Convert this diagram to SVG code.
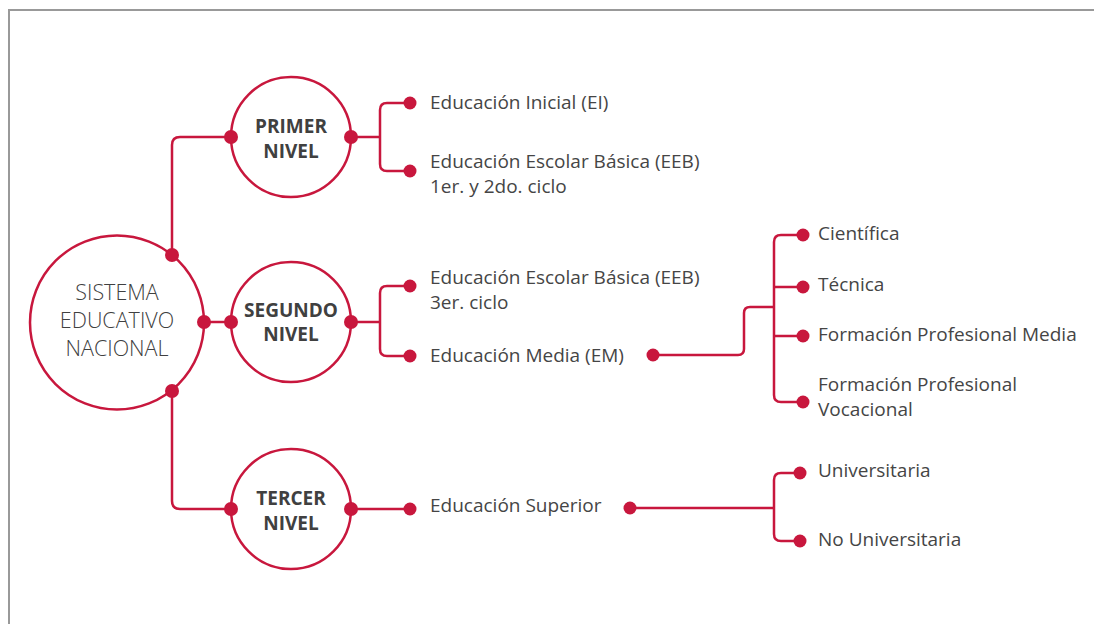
<svg xmlns="http://www.w3.org/2000/svg" width="1094" height="624" viewBox="0 0 1094 624">
<style>
.frame{fill:none;stroke:#999;stroke-width:2}
.ring{fill:#fff;stroke:#c8173d;stroke-width:2.5}
.ln{fill:none;stroke:#c8173d;stroke-width:2.5;stroke-linejoin:round}
.dot{fill:#c8173d}
.t{font-family:"Open Sans","Noto Sans",sans-serif;font-size:19px;fill:#454545}
.b{font-family:"Open Sans","Noto Sans",sans-serif;font-size:19px;font-weight:700;fill:#404040;text-anchor:middle}
.m{font-family:"Open Sans","Noto Sans",sans-serif;font-size:21.5px;font-weight:300;fill:#404040;text-anchor:middle}
</style>
<rect width="1094" height="624" fill="#fff"/>
<path class="frame" d="M9 630 V10 H1100"/>
<g id="connectors">
<path class="ln" d="M172 255 V145 Q172 137 180 137 H231"/>
<path class="ln" d="M204 322 H231"/>
<path class="ln" d="M172 391 V501 Q172 509 180 509 H231"/>
<path class="ln" d="M351 137 H380"/>
<path class="ln" d="M410 103 H387 Q380 103 380 110 V164 Q380 171 387 171 H410"/>
<path class="ln" d="M351 322 H380"/>
<path class="ln" d="M410 286 H387 Q380 286 380 293 V349 Q380 356 387 356 H410"/>
<path class="ln" d="M653 355 H738 Q744 355 744 349 V313 Q744 307 750 307 H774"/>
<path class="ln" d="M803 235 H781 Q774 235 774 242 V395 Q774 402 781 402 H803"/>
<path class="ln" d="M774 287 H803 M774 336 H803"/>
<path class="ln" d="M351 509 H410"/>
<path class="ln" d="M630 508 H774"/>
<path class="ln" d="M800 473 H781 Q774 473 774 480 V534 Q774 541 781 541 H800"/>
</g>
<g id="sistema">
<circle class="ring" cx="117" cy="322.5" r="87"/>
<text class="m" x="117" y="300">SISTEMA</text>
<text class="m" x="117" y="328">EDUCATIVO</text>
<text class="m" x="117" y="356">NACIONAL</text>
<circle class="dot" cx="172" cy="255" r="7"/>
<circle class="dot" cx="204" cy="322" r="7"/>
<circle class="dot" cx="172" cy="391" r="7"/>
</g>
<g id="primer">
<circle class="ring" cx="291" cy="137" r="60"/>
<text class="b" x="291" y="133">PRIMER</text>
<text class="b" x="291" y="158">NIVEL</text>
<circle class="dot" cx="231" cy="137" r="7"/>
<circle class="dot" cx="351" cy="137" r="7"/>
</g>
<g id="segundo">
<circle class="ring" cx="291" cy="322" r="60"/>
<text class="b" x="291" y="317">SEGUNDO</text>
<text class="b" x="291" y="341">NIVEL</text>
<circle class="dot" cx="231" cy="322" r="7"/>
<circle class="dot" cx="351" cy="322" r="7"/>
</g>
<g id="tercer">
<circle class="ring" cx="291" cy="509" r="60"/>
<text class="b" x="291" y="505">TERCER</text>
<text class="b" x="291" y="530">NIVEL</text>
<circle class="dot" cx="231" cy="509" r="7"/>
<circle class="dot" cx="351" cy="509" r="7"/>
</g>
<g id="ei">
<circle class="dot" cx="410" cy="103" r="6.5"/>
<text class="t" x="430" y="109">Educación Inicial (EI)</text>
</g>
<g id="eeb12">
<circle class="dot" cx="410" cy="171" r="6.5"/>
<text class="t" x="430" y="168">Educación Escolar Básica (EEB)</text>
<text class="t" x="430" y="192.5">1er. y 2do. ciclo</text>
</g>
<g id="eeb3">
<circle class="dot" cx="410" cy="286" r="6.5"/>
<text class="t" x="430" y="284">Educación Escolar Básica (EEB)</text>
<text class="t" x="430" y="309">3er. ciclo</text>
</g>
<g id="em">
<circle class="dot" cx="410" cy="356" r="6.5"/>
<text class="t" x="430" y="362">Educación Media (EM)</text>
<circle class="dot" cx="653" cy="355" r="6.5"/>
</g>
<g id="cientifica">
<circle class="dot" cx="803" cy="235" r="6.5"/>
<text class="t" x="818" y="240">Científica</text>
</g>
<g id="tecnica">
<circle class="dot" cx="803" cy="287" r="6.5"/>
<text class="t" x="818" y="291">Técnica</text>
</g>
<g id="fpm">
<circle class="dot" cx="803" cy="336" r="6.5"/>
<text class="t" x="818" y="341">Formación Profesional Media</text>
</g>
<g id="fpv">
<circle class="dot" cx="803" cy="402" r="6.5"/>
<text class="t" x="818" y="391">Formación Profesional</text>
<text class="t" x="818" y="415.5">Vocacional</text>
</g>
<g id="superior">
<circle class="dot" cx="410" cy="509" r="6.5"/>
<text class="t" x="430" y="512">Educación Superior</text>
<circle class="dot" cx="630" cy="508" r="6.5"/>
</g>
<g id="universitaria">
<circle class="dot" cx="800" cy="473" r="6.5"/>
<text class="t" x="818" y="477">Universitaria</text>
</g>
<g id="nouniv">
<circle class="dot" cx="800" cy="541" r="6.5"/>
<text class="t" x="818" y="546">No Universitaria</text>
</g>
</svg>
